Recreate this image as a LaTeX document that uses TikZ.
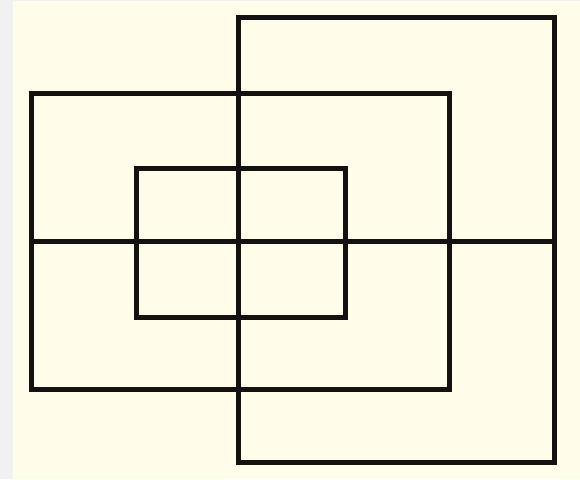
\documentclass[tikz,border=0pt]{standalone}
\definecolor{cream}{HTML}{FFFCEA}
\definecolor{strip}{HTML}{F1F1F1}
\definecolor{ink}{HTML}{141210}
\begin{document}
\begin{tikzpicture}[x=1pt,y=-1pt,
  frame/.style={draw=ink,line width=5pt,line join=miter}]
\useasboundingbox (0,0) rectangle (580,479);
\fill[strip] (0,0) rectangle (580,479);
\fill[cream] (13,1) rectangle (580,479);
\coordinate (rA) at (238,17);
\coordinate (rB) at (554,462);
\coordinate (lA) at (31,93);
\coordinate (lB) at (449,389);
\coordinate (iA) at (136,168);
\coordinate (iB) at (345,317);
\coordinate (hL) at (31,241);
\coordinate (hR) at (554,241);
\draw[frame] (rA) rectangle (rB);
\draw[frame] (lA) rectangle (lB);
\draw[frame] (iA) rectangle (iB);
\draw[frame] (hL) -- (hR);
\end{tikzpicture}
\end{document}
